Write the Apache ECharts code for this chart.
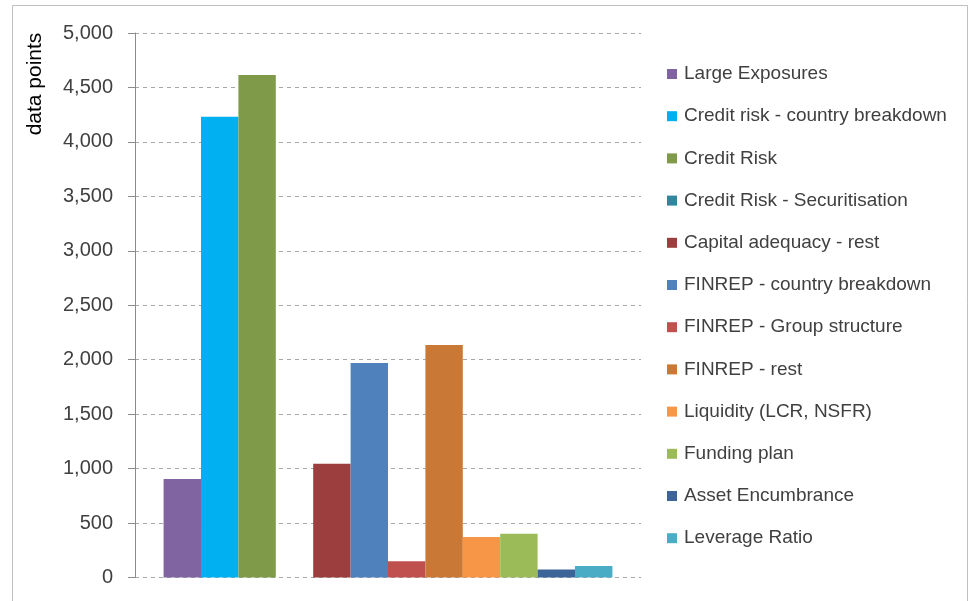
<!DOCTYPE html>
<html>
<head>
<meta charset="utf-8">
<script src="https://cdn.jsdelivr.net/npm/echarts@6/dist/echarts.min.js"></script>
<style>
  html, body { margin: 0; padding: 0; background: #fff; }
  #chart { width: 972px; height: 601px; }
</style>
</head>
<body>
<div id="chart"></div>
<script>
  // series names and values (one bar each)
  const seriesNames = [
    'Large Exposures',
    'Credit risk - country breakdown',
    'Credit Risk',
    'Credit Risk - Securitisation',
    'Capital adequacy - rest',
    'FINREP - country breakdown',
    'FINREP - Group structure',
    'FINREP - rest',
    'Liquidity (LCR, NSFR)',
    'Funding plan',
    'Asset Encumbrance',
    'Leverage Ratio'
  ]
  const seriesValues = [905, 4230, 4615, 0, 1045, 1970, 150, 2135, 372, 402, 73, 105]
  const seriesColors = [
    '#8064A2', '#00B0F0', '#7F9A48', '#31859C', '#9B3E3D', '#4F81BD',
    '#C0504D', '#C97935', '#F79646', '#9BBB59', '#3C6598', '#4BACC6'
  ]
  const categories = ['']
  const yTicks = { min: 0, max: 5000, interval: 500 }

  const chart = echarts.init(document.getElementById('chart'), null, { renderer: 'canvas' })

  const series = seriesNames.map((name, i) => ({
    name: name,
    type: 'bar',
    data: [seriesValues[i]],
    barGap: '0%',
    barCategoryGap: '11.3%',
    itemStyle: { color: seriesColors[i] },
    emphasis: { disabled: true },
    animation: false
  }))

  chart.setOption({
    backgroundColor: '#ffffff',
    animation: false,
    grid: {
      left: 135,
      right: 331,
      top: 33,
      bottom: 23.5,
      containLabel: false
    },
    xAxis: {
      type: 'category',
      data: categories,
      axisLine: { show: false },
      axisTick: { show: false },
      axisLabel: { show: false }
    },
    yAxis: {
      type: 'value',
      min: yTicks.min,
      max: yTicks.max,
      interval: yTicks.interval,
      axisLine: { show: true, lineStyle: { color: '#8C8C8C', width: 1 } },
      axisTick: { show: true, inside: false, length: 7, lineStyle: { color: '#8C8C8C' } },
      axisLabel: {
        margin: 22,
        color: '#404040',
        fontSize: 20,
        fontFamily: 'Liberation Sans, Arial, sans-serif',
        formatter: v => v.toLocaleString('en-US')
      },
      splitLine: {
        show: true,
        lineStyle: { color: '#A6A6A6', type: [4, 4], width: 1 }
      }
    },
    legend: {
      orient: 'vertical',
      left: 662,
      top: 59,
      icon: 'rect',
      itemWidth: 10,
      itemHeight: 10,
      itemGap: 22.2,
      textStyle: {
        color: '#404040',
        fontSize: 19,
        lineHeight: 20,
        padding: [0, 0, 0, 2],
        fontFamily: 'Liberation Sans, Arial, sans-serif'
      },
      selectedMode: false,
      data: seriesNames
    },
    graphic: [
      {
        type: 'rect',
        shape: { x: 12.5, y: 5.5, width: 955, height: 620 },
        style: { fill: 'none', stroke: '#BFBFBF', lineWidth: 1 },
        silent: true
      },
      {
        type: 'text',
        x: 35,
        y: 84,
        rotation: Math.PI / 2,
        style: {
          text: 'data points',
          fill: '#000000',
          fontSize: 21,
          fontFamily: 'Liberation Sans, Arial, sans-serif',
          align: 'center',
          verticalAlign: 'middle'
        },
        silent: true
      }
    ],
    series: series
  })
</script>
</body>
</html>
